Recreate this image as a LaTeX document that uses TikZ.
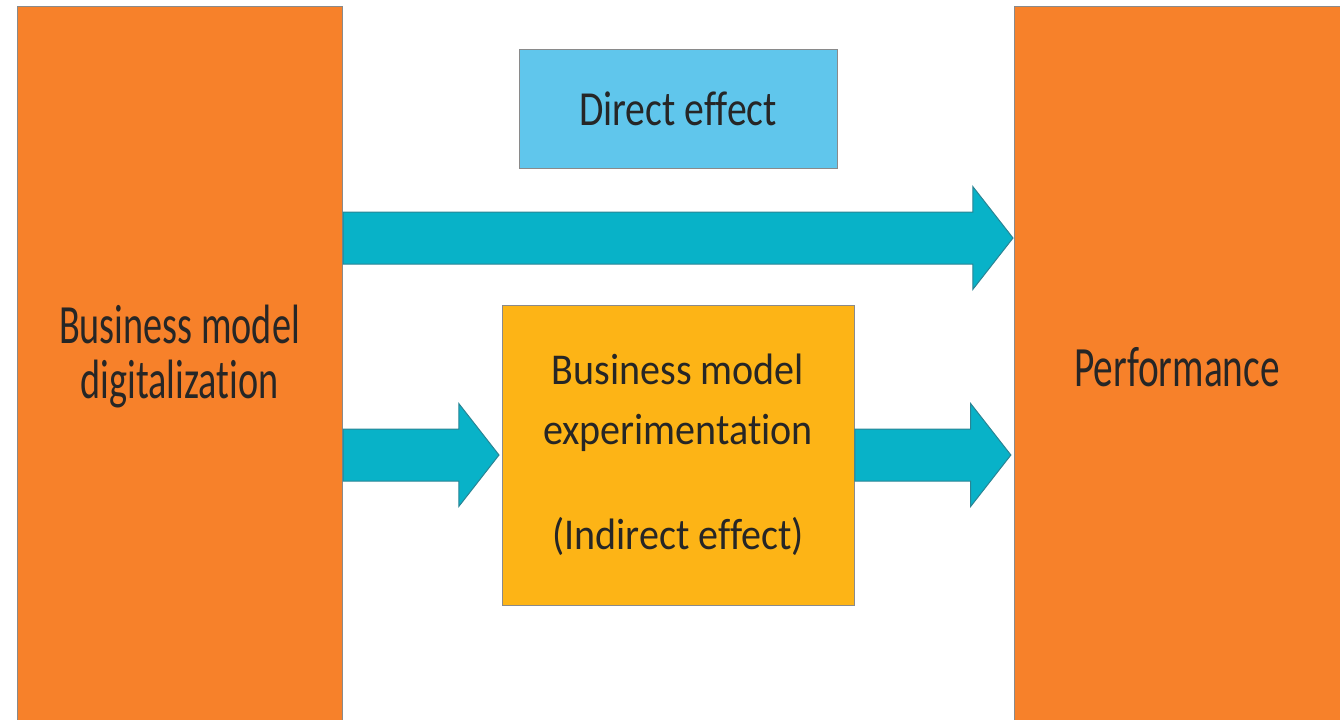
\documentclass[tikz,border=0pt]{standalone}
\usepackage{fontspec}
\setmainfont{Carlito}
\newfontfamily\sideFont[FakeStretch=0.69, Ligatures=NoCommon]{Carlito}
\newfontfamily\midFont[FakeStretch=0.91, Ligatures=NoCommon]{Carlito}
\newfontfamily\topFont[FakeStretch=0.81, Ligatures=NoCommon]{Carlito}
\usepackage{tikz}
\usetikzlibrary{shapes.arrows, positioning}
\usepackage{xcolor}
\definecolor{boxOrange}{HTML}{F7812A}
\definecolor{boxGold}{HTML}{FDB416}
\definecolor{boxBlue}{HTML}{60C6EC}
\definecolor{arrowTeal}{HTML}{08B2C8}
\definecolor{arrowEdge}{HTML}{2A8494}
\definecolor{boxEdge}{HTML}{8A8A8A}
\definecolor{textDark}{HTML}{262626}

\begin{document}
\begin{tikzpicture}[
      x=0.5pt, y=-0.5pt,
      block/.style={draw=boxEdge, line width=0.5pt, inner sep=0pt, text=textDark, align=center},
      outer/.style={block, fill=boxOrange, minimum width=162.5pt, minimum height=359pt},
      flow/.style={single arrow, draw=arrowEdge, fill=arrowTeal, line width=0.5pt,
        inner xsep=0pt, inner ysep=12.75pt, minimum width=51pt, single arrow head extend=12.75pt,
        single arrow tip angle=104, single arrow head indent=0pt},
      caption/.style={text=textDark, align=center}
    ]
    \useasboundingbox (0,0) rectangle (1340,719);

    % Nodes
    \node[outer] (digit) at (179.5,365) {};
    \node[outer, minimum width=166pt] (perf) at (1180,365) {};
    \node[block, fill=boxBlue, minimum width=159pt, minimum height=59.5pt,
      font=\topFont\fontsize{24.5}{28}\selectfont] (direct) at (678,108.5) {Direct effect};
    \node[block, fill=boxGold, minimum width=176pt, minimum height=150pt,
      font=\midFont\fontsize{22}{30}\selectfont] (medium) at (678,455)
      {Business model\\experimentation\\[22.5pt](Indirect effect)};

    % Texts of the outer boxes
    \node[caption, font=\sideFont\fontsize{27.7}{27.5}\selectfont] (digitText) at (digit |- 0,357)
      {Business model\\digitalization};
    \node[caption, font=\sideFont\fontsize{28.5}{28}\selectfont] (perfText) at (1177,367) {Performance};

    % Arrows
    \coordinate (directRow) at (0,238);
    \node[flow, minimum height=335pt, anchor=tail] (directArrow) at (digit.east |- directRow) {};
    \node[flow, minimum height=78pt, anchor=tail] (toMedium) at (digit.east |- medium) {};
    \node[flow, minimum height=78pt, anchor=tip, xshift=-1pt] (fromMedium) at (perf.west |- medium) {};

  \end{tikzpicture}
\end{document}
